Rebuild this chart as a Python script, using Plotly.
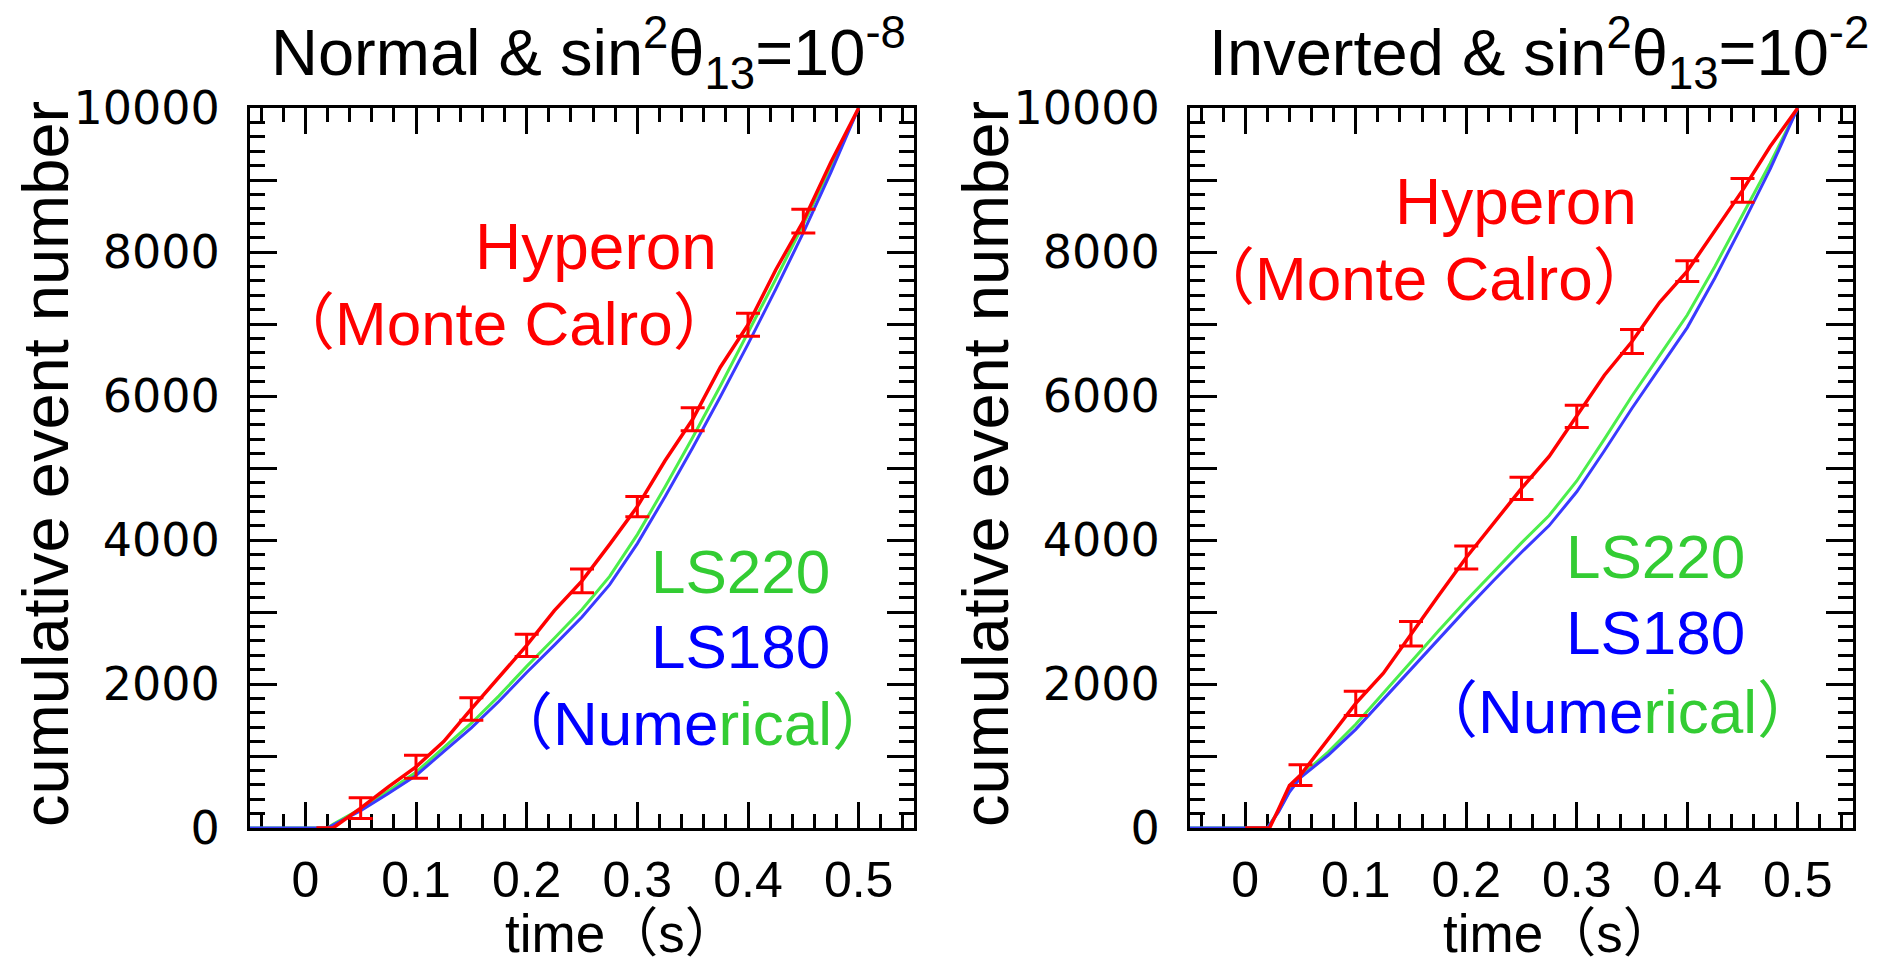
import plotly.graph_objects as go

W, H = 1877, 961

# ---------------- data ----------------
# Left panel: Normal hierarchy, sin^2(theta13) = 1e-8
t_ls_n = [-0.05, 0.0, 0.02, 0.025, 0.05, 0.075, 0.1, 0.125, 0.15, 0.175, 0.2,
          0.225, 0.25, 0.275, 0.3, 0.325, 0.35, 0.375, 0.4, 0.425, 0.45, 0.475, 0.5]
ls220_n = [0, 0, 0, 50, 265, 515, 775, 1115, 1455, 1835, 2245, 2635, 3035, 3495,
           4075, 4735, 5425, 6140, 6870, 7620, 8385, 9180, 10000]
ls180_n = [0, 0, 0, 40, 240, 480, 730, 1060, 1390, 1760, 2160, 2540, 2930, 3380,
           3950, 4600, 5280, 5990, 6720, 7480, 8270, 9110, 10000]
t_mc_n = [0.01, 0.025, 0.05, 0.075, 0.1, 0.125, 0.15, 0.175, 0.2, 0.225, 0.25,
          0.275, 0.3, 0.325, 0.35, 0.375, 0.4, 0.425, 0.45, 0.475, 0.5]
mc_n = [0, 0, 276, 571, 850, 1200, 1653, 2100, 2537, 3020, 3432, 3940, 4464,
        5100, 5677, 6400, 6989, 7750, 8430, 9250, 10000]
t_err_n = [0.05, 0.1, 0.15, 0.2, 0.25, 0.3, 0.35, 0.4, 0.45]
err_val_n = [276, 850, 1653, 2537, 3432, 4464, 5677, 6989, 8430]
err_n = [145, 160, 155, 155, 165, 140, 160, 160, 165]

# Right panel: Inverted hierarchy, sin^2(theta13) = 1e-2
t_ls_i = [-0.05, 0.0, 0.02, 0.03, 0.04, 0.05, 0.075, 0.1, 0.125, 0.15, 0.175, 0.2,
          0.225, 0.25, 0.275, 0.3, 0.325, 0.35, 0.375, 0.4, 0.425, 0.45, 0.475, 0.5]
ls220_i = [0, 0, 0, 230, 515, 720, 1055, 1440, 1875, 2310, 2740, 3160, 3565, 3960,
           4340, 4820, 5400, 6000, 6565, 7125, 7800, 8510, 9230, 10000]
ls180_i = [0, 0, 0, 220, 500, 700, 1010, 1370, 1790, 2210, 2630, 3040, 3440, 3830,
           4200, 4670, 5240, 5830, 6390, 6950, 7640, 8380, 9150, 10000]
t_mc_i = [0.0, 0.022, 0.03, 0.04, 0.05, 0.075, 0.1, 0.125, 0.15, 0.175, 0.2, 0.225,
          0.25, 0.275, 0.3, 0.325, 0.35, 0.375, 0.4, 0.425, 0.45, 0.475, 0.5]
mc_i = [0, 0, 258, 590, 735, 1225, 1731, 2150, 2698, 3228, 3757, 4240, 4717, 5161,
        5718, 6289, 6757, 7302, 7735, 8300, 8856, 9465, 10000]
t_err_i = [0.05, 0.1, 0.15, 0.2, 0.25, 0.3, 0.35, 0.4, 0.45]
err_val_i = [735, 1731, 2698, 3757, 4717, 5718, 6757, 7735, 8856]
err_i = [145, 170, 170, 160, 155, 155, 165, 145, 165]

x_tickvals = [0, 0.1, 0.2, 0.3, 0.4, 0.5]
x_ticktext = ["0", "0.1", "0.2", "0.3", "0.4", "0.5"]
y_tickvals = [0, 1000, 2000, 3000, 4000, 5000, 6000, 7000, 8000, 9000, 10000]
y_ticktext = ["0", "", "2000", "", "4000", "", "6000", "", "8000", "", "10000"]

titles = ["Normal &amp; sin<sup>2</sup>θ<sub>13</sub>=10<sup>-8</sup>",
          "Inverted &amp; sin<sup>2</sup>θ<sub>13</sub>=10<sup>-2</sup>"]

RED = "#ff0000"
GREEN_L = "#4cee4c"
BLUE_L = "#3a3aff"
GREEN_T = "#33cc33"
BLUE_T = "#0000ff"
FONT = "Liberation Sans, Arial, Noto Sans CJK JP, sans-serif"
WIDE = "DejaVu Sans, Verdana, sans-serif"

fig = go.Figure()

panels = [
    (t_ls_n, ls220_n, ls180_n, t_mc_n, mc_n, t_err_n, err_val_n, err_n, "x", "y"),
    (t_ls_i, ls220_i, ls180_i, t_mc_i, mc_i, t_err_i, err_val_i, err_i, "x2", "y2"),
]
for (tl, g, b, tm, m, te, ev, ee, xa, ya) in panels:
    fig.add_trace(go.Scatter(x=tl, y=g, mode="lines", line=dict(color=GREEN_L, width=3),
                             xaxis=xa, yaxis=ya, showlegend=False, hoverinfo="skip"))
    fig.add_trace(go.Scatter(x=tl, y=b, mode="lines", line=dict(color=BLUE_L, width=3),
                             xaxis=xa, yaxis=ya, showlegend=False, hoverinfo="skip"))
    fig.add_trace(go.Scatter(x=tm, y=m, mode="lines", line=dict(color=RED, width=3.5),
                             xaxis=xa, yaxis=ya, showlegend=False, hoverinfo="skip"))
    fig.add_trace(go.Scatter(x=te, y=ev, mode="markers", marker=dict(color=RED, size=2),
                             error_y=dict(type="data", array=ee, visible=True, color=RED,
                                          thickness=3, width=12),
                             xaxis=xa, yaxis=ya, showlegend=False, hoverinfo="skip"))

xdoms = [[242 / W, 906 / W], [1182 / W, 1845 / W]]
ydom = [(H - 820) / H, (H - 100) / H]

common_x = dict(range=[-0.05, 0.55], tickmode="array", tickvals=x_tickvals, ticktext=x_ticktext,
                showline=True, linewidth=3, linecolor="black", mirror="allticks",
                ticks="inside", ticklen=26, tickwidth=3, tickcolor="black",
                minor=dict(ticks="inside", ticklen=14, tickwidth=3, tickcolor="black",
                           tick0=0, dtick=0.02),
                showgrid=False, zeroline=False, ticklabelstandoff=6, automargin=False,
                tickfont=dict(family=FONT, size=50, color="black"), layer="below traces")
common_y = dict(range=[0, 10000], tickmode="array", tickvals=y_tickvals, ticktext=y_ticktext,
                showline=True, linewidth=3, linecolor="black", mirror="allticks",
                ticks="inside", ticklen=27, tickwidth=3, tickcolor="black",
                minor=dict(ticks="inside", ticklen=15, tickwidth=3, tickcolor="black",
                           tick0=0, dtick=200),
                showgrid=False, zeroline=False, ticklabelstandoff=18, automargin=False,
                tickfont=dict(family=WIDE, size=46, color="black"), layer="below traces")

fig.update_layout(
    width=W, height=H, margin=dict(l=0, r=0, t=0, b=0, autoexpand=False),
    paper_bgcolor="white", plot_bgcolor="white", showlegend=False,
    xaxis=dict(domain=xdoms[0], anchor="y", **common_x),
    yaxis=dict(domain=ydom, anchor="x", **common_y),
    xaxis2=dict(domain=xdoms[1], anchor="y2", **common_x),
    yaxis2=dict(domain=ydom, anchor="x2", **common_y),
)


def ann(text, px, py, size, color="black", angle=0, family=FONT):
    fig.add_annotation(text=text, x=px / W, y=1 - py / H, xref="paper", yref="paper",
                       xanchor="center", yanchor="middle", showarrow=False, textangle=angle,
                       font=dict(family=family, size=size, color=color))


# titles
ann(titles[0], 580, 45, 65)
ann(titles[1], 1531, 45, 65)
# axis titles
ann("cumulative event number", 38, 456, 65, angle=-90)
ann("cumulative event number", 978, 456, 65, angle=-90)
ann("time（s）", 613, 925, 53)
ann("time（s）", 1551, 925, 53)
# labels left
ann("Hyperon", 588, 239, 64, RED)
ann("（Monte Calro）", 496, 315, 62, RED)
ann("LS220", 732, 563, 62, GREEN_T)
ann("LS180", 732, 638, 62, BLUE_T)
ann(f"<span style='color:{BLUE_T}'>（Nume</span><span style='color:{GREEN_T}'>rical）</span>",
    684, 715, 62)
# labels right
ann("Hyperon", 1508, 194, 64, RED)
ann("（Monte Calro）", 1416, 270, 62, RED)
ann("LS220", 1647, 548, 62, GREEN_T)
ann("LS180", 1647, 624, 62, BLUE_T)
ann(f"<span style='color:{BLUE_T}'>（Nume</span><span style='color:{GREEN_T}'>rical）</span>",
    1609, 703, 62)

fig.write_html("out.html")
